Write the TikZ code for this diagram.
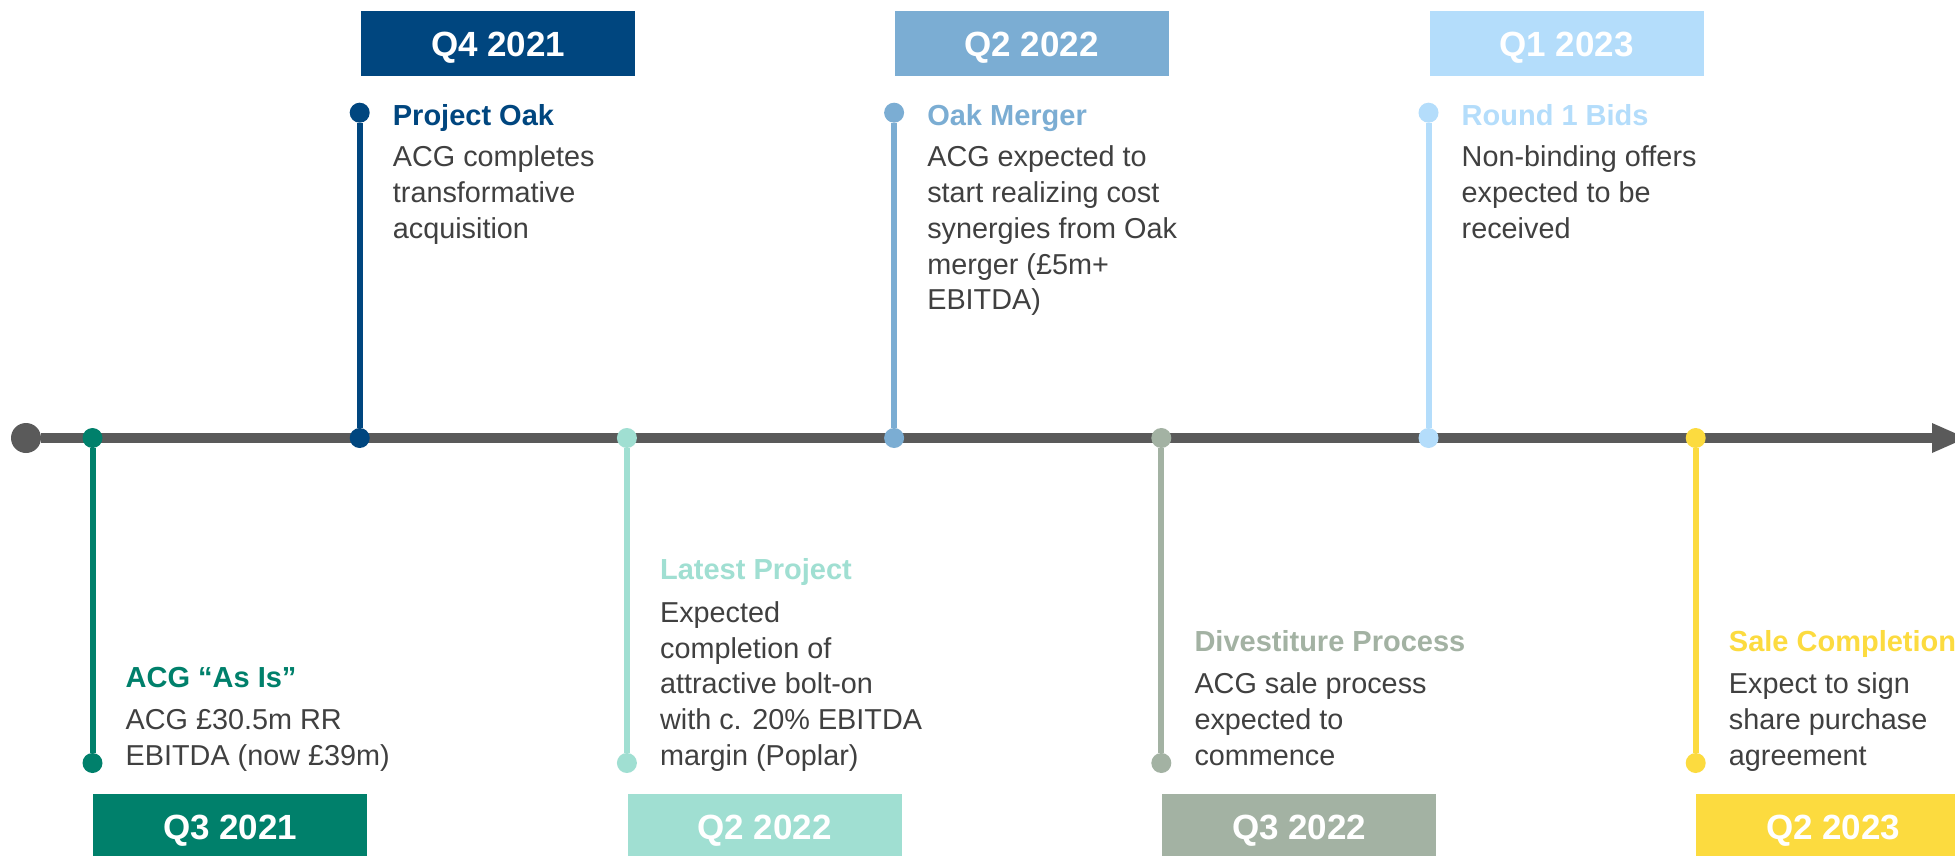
\documentclass[tikz,border=0pt]{standalone}
\usepackage{fontspec}
\setmainfont{Liberation Sans}
\usepackage{tikz}
\usepackage{xcolor}
\usetikzlibrary{arrows.meta, positioning}

\definecolor{axisgrey}{HTML}{5A5A5A}
\definecolor{textgrey}{HTML}{404040}
\definecolor{asisgreen}{HTML}{00806B}
\definecolor{oaknavy}{HTML}{00467F}
\definecolor{latestmint}{HTML}{A0DFD2}
\definecolor{mergerblue}{HTML}{7BADD3}
\definecolor{divestsage}{HTML}{A3B2A3}
\definecolor{bidsblue}{HTML}{B4DDFB}
\definecolor{saleyellow}{HTML}{FCDB3F}

\begin{document}
\begin{tikzpicture}[x=1pt, y=-1pt,
    dot/.style={circle, inner sep=0pt, minimum size=20pt},
    stem/.style={line width=6pt},
    head/.style={anchor=base west, inner sep=0pt, font=\fontsize{29}{36}\selectfont\bfseries},
    info/.style={anchor=base west, inner sep=0pt, align=left, text=textgrey, font=\fontsize{28.8}{35.8}\selectfont},
    datebox/.style={text=white, minimum width=274pt, minimum height=65pt, inner sep=0pt,
        text height=25pt, text depth=0pt, font=\fontsize{35}{42}\selectfont\bfseries}]
    \path[fill=white, use as bounding box] (0,0) rectangle (1955,856);

    % time axis
    \node[dot, minimum size=30pt, fill=axisgrey] (start) at (26,438) {};
    \coordinate (tip) at (1966,438);
    \draw[line width=10pt, axisgrey, -{Triangle[length=34pt, width=30pt, line width=0pt]}] (start) -- (tip);

    \node[dot, fill=asisgreen] (p1) at (92.5,438) {};
    \node[dot, fill=asisgreen] (e1) at (92.5,763) {};
    \node[dot, fill=oaknavy] (p2) at (359.7,438) {};
    \node[dot, fill=oaknavy] (e2) at (359.7,112.7) {};
    \node[dot, fill=latestmint] (p3) at (626.9,438) {};
    \node[dot, fill=latestmint] (e3) at (626.9,763) {};
    \node[dot, fill=mergerblue] (p4) at (894.1,438) {};
    \node[dot, fill=mergerblue] (e4) at (894.1,112.7) {};
    \node[dot, fill=divestsage] (p5) at (1161.3,438) {};
    \node[dot, fill=divestsage] (e5) at (1161.3,763) {};
    \node[dot, fill=bidsblue] (p6) at (1428.5,438) {};
    \node[dot, fill=bidsblue] (e6) at (1428.5,112.7) {};
    \node[dot, fill=saleyellow] (p7) at (1695.7,438) {};
    \node[dot, fill=saleyellow] (e7) at (1695.7,763) {};

    \draw[stem, asisgreen] (p1) -- (e1);
    \draw[stem, oaknavy] (p2) -- (e2);
    \draw[stem, latestmint] (p3) -- (e3);
    \draw[stem, mergerblue] (p4) -- (e4);
    \draw[stem, divestsage] (p5) -- (e5);
    \draw[stem, bidsblue] (p6) -- (e6);
    \draw[stem, saleyellow] (p7) -- (e7);

    % body texts sit on their last line
    \node[head, text=asisgreen] (t1) at (125.5,687.2) {ACG “As Is”};
    \node[info] (b1) at (125.5,765.5) {ACG £30.5m RR\\EBITDA (now £39m)};
    \node[datebox, fill=asisgreen, anchor=north west] (d1) at (93,794) {Q3 2021};

    \node[head, text=oaknavy] (t2) at (392.7,126) {Project Oak};
    \node[info] (b2) at (392.7,238.3) {ACG completes\\transformative\\acquisition};
    \node[datebox, fill=oaknavy, anchor=north west] (d2) at (361,11) {Q4 2021};

    \node[head, text=latestmint] (t3) at (659.9,579.8) {Latest Project};
    \node[info] (b3) at (659.9,765.5) {Expected\\completion of\\attractive bolt-on\\with c. 20\% EBITDA\\margin (Poplar)};
    \node[datebox, fill=latestmint, anchor=north west] (d3) at (627.5,794) {Q2 2022};

    \node[head, text=mergerblue] (t4) at (927.1,126) {Oak Merger};
    \node[info] (b4) at (927.1,309.9) {ACG expected to\\start realizing cost\\synergies from Oak\\merger (£5m+\\EBITDA)};
    \node[datebox, fill=mergerblue, anchor=north west] (d4) at (894.5,11) {Q2 2022};

    \node[head, text=divestsage] (t5) at (1194.3,651.4) {Divestiture Process};
    \node[info] (b5) at (1194.3,765.5) {ACG sale process\\expected to\\commence};
    \node[datebox, fill=divestsage, anchor=north west] (d5) at (1162,794) {Q3 2022};

    \node[head, text=bidsblue] (t6) at (1461.5,126) {Round 1 Bids};
    \node[info] (b6) at (1461.5,238.3) {Non-binding offers\\expected to be\\received};
    \node[datebox, fill=bidsblue, anchor=north west] (d6) at (1429.5,11) {Q1 2023};

    \node[head, text=saleyellow] (t7) at (1728.7,651.4) {Sale Completion};
    \node[info] (b7) at (1728.7,765.5) {Expect to sign\\share purchase\\agreement};
    \node[datebox, fill=saleyellow, anchor=north west] (d7) at (1696,794) {Q2 2023};
\end{tikzpicture}
\end{document}
